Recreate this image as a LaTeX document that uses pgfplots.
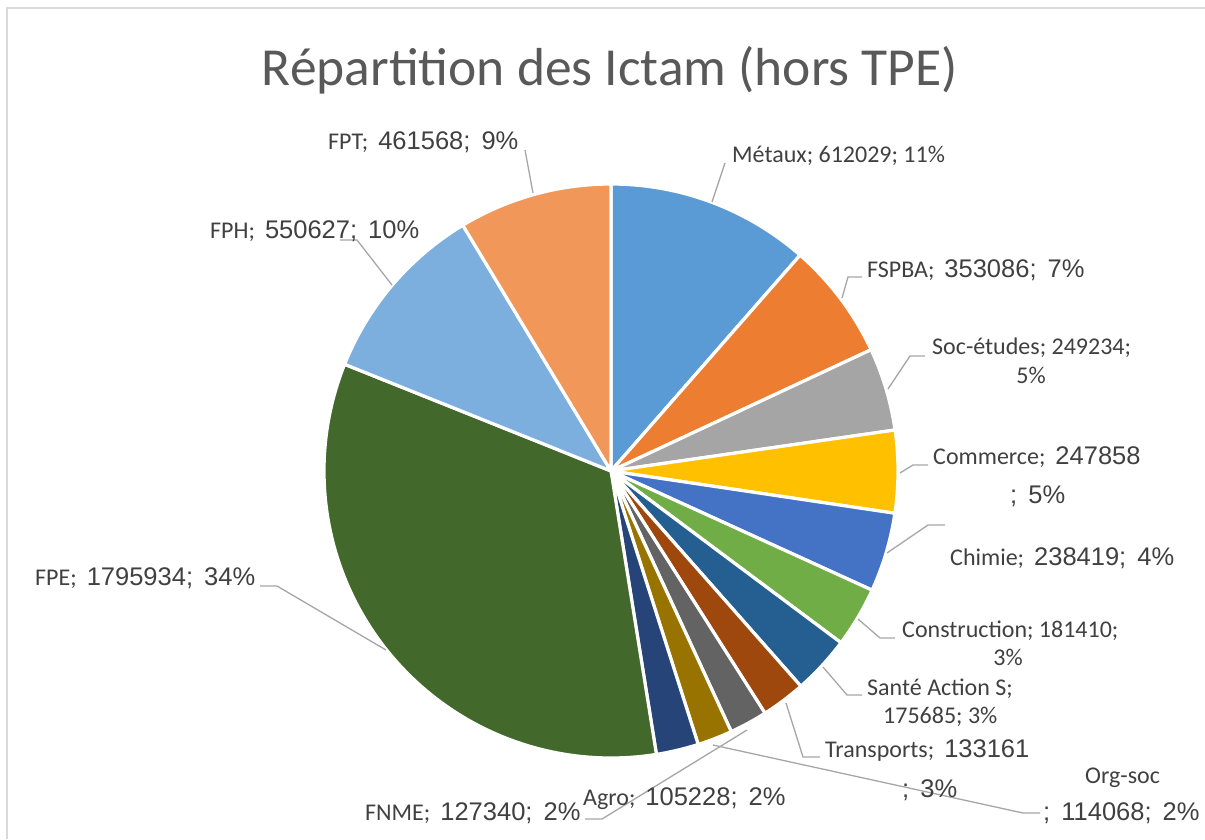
\documentclass[border=0pt]{standalone}
\usepackage{pgfplots}
\pgfplotsset{compat=1.18}
\usepackage{fontspec}
\setmainfont{Carlito}
\newfontfamily\arial{Liberation Sans}
\definecolor{c1}{HTML}{5B9BD5}
\definecolor{c2}{HTML}{ED7D31}
\definecolor{c3}{HTML}{A5A5A5}
\definecolor{c4}{HTML}{FFC000}
\definecolor{c5}{HTML}{4472C4}
\definecolor{c6}{HTML}{70AD47}
\definecolor{c7}{HTML}{255E91}
\definecolor{c8}{HTML}{9E480E}
\definecolor{c9}{HTML}{636363}
\definecolor{c10}{HTML}{997300}
\definecolor{c11}{HTML}{264478}
\definecolor{c12}{HTML}{43682B}
\definecolor{c13}{HTML}{7CAFDD}
\definecolor{c14}{HTML}{F1975A}
\definecolor{tc}{HTML}{404040}
\definecolor{ttl}{HTML}{595959}
\definecolor{lead}{HTML}{A6A6A6}
\definecolor{frame}{HTML}{D9D9D9}
\newcommand\cf{\fontsize{24}{29}\selectfont}
\newcommand\af{\arial\fontsize{25.5}{30}\selectfont}
% total of all values
\def\tot{5345647}
\def\cum{0}
\newcommand\slice[2]{%
  \xdef\angA{\fpeval{360*\cum/\tot}}%
  \xdef\cum{\fpeval{\cum+#1}}%
  \xdef\angB{\fpeval{360*\cum/\tot}}%
  \edef\tmp{\noexpand\addplot[fill=#2,draw=white,solid,no marks,line width=3.2pt,line join=round,domain=\angA:\angB,samples=90] ({611+287*sin(x)},{471-287*cos(x)}) -- (axis cs:611,471) -- cycle;}%
  \tmp}
\tikzset{
  lb/.style={anchor=base west, text=tc, inner sep=0pt},
  lc/.style={anchor=base, text=tc, inner sep=0pt},
  ld/.style={lead, solid, line width=1.3pt, no marks},
}
\begin{document}
\begin{tikzpicture}
\begin{axis}[
  width=1205pt, height=839pt, scale only axis,
  xmin=0, xmax=1205, ymin=0, ymax=839, y dir=reverse,
  hide axis, clip=false,
]
% frame
\addplot[frame, solid, line width=1.3pt, no marks] coordinates {(7,839) (7,8) (1205,8)};
% slices (values)
\slice{612029}{c1}   % Métaux
\slice{353086}{c2}   % FSPBA
\slice{249234}{c3}   % Soc-études
\slice{247858}{c4}   % Commerce
\slice{238419}{c5}   % Chimie
\slice{181410}{c6}   % Construction
\slice{175685}{c7}   % Santé Action S
\slice{133161}{c8}   % Transports
\slice{114068}{c9}   % Org-soc
\slice{105228}{c10}  % Agro
\slice{127340}{c11}  % FNME
\slice{1795934}{c12} % FPE
\slice{550627}{c13}  % FPH
\slice{461568}{c14}  % FPT
% leader lines
\addplot[ld] coordinates {(533,193) (525,150)};
\addplot[ld] coordinates {(392,285) (357,240) (340,240)};
\addplot[ld] coordinates {(712,202) (725,163)};
\addplot[ld] coordinates {(842,298) (848,277) (862,277)};
\addplot[ld] coordinates {(888,389) (910,356) (925,356)};
\addplot[ld] coordinates {(900,473) (913,465) (928,465)};
\addplot[ld] coordinates {(887,553) (928,525) (945,525)};
\addplot[ld] coordinates {(858,619) (880,638) (895,638)};
\addplot[ld] coordinates {(823,667) (847,695) (862,695)};
\addplot[ld] coordinates {(786,703) (803,757) (820,757)};
\addplot[ld] coordinates {(713,745) (1023,813) (1040,813)};
\addplot[ld] coordinates {(747,730) (602,819) (585,819)};
\addplot[ld] coordinates {(386,650) (277,586) (260,586)};
% title
\node[anchor=base, text=ttl, inner sep=0pt, font=\fontsize{53.5}{62}\selectfont] at (axis cs:610,85) {Répartition des Ictam (hors TPE)};
% labels
\node[lb] at (axis cs:328,149) {\cf FPT;\hspace{10pt}\af 461568;\hspace{4pt} 9\%};
\node[lb] at (axis cs:210,238) {\cf FPH;\hspace{10pt}\af 550627;\hspace{4pt} 10\%};
\node[lb] at (axis cs:732,162) {\cf Métaux; 612029; 11\%};
\node[lb] at (axis cs:867,277) {\cf FSPBA;\hspace{10pt}\af 353086;\hspace{4pt} 7\%};
\node[lb] at (axis cs:932,354) {\cf Soc-études; 249234;};
\node[lc] at (axis cs:1031,383) {\cf 5\%};
\node[lb] at (axis cs:933,464) {\cf Commerce;\hspace{10pt}\af 247858};
\node[lb] at (axis cs:1010,503) {\af ;\hspace{4pt} 5\%};
\node[lb] at (axis cs:950,565) {\cf Chimie;\hspace{10pt}\af 238419;\hspace{4pt} 4\%};
\node[lb] at (axis cs:902,637) {\cf Construction; 181410;};
\node[lc] at (axis cs:1008,665) {\cf 3\%};
\node[lb] at (axis cs:867,695) {\cf Santé Action S;};
\node[lb] at (axis cs:883,723) {\cf 175685; 3\%};
\node[lb] at (axis cs:825,757) {\cf Transports;\hspace{10pt}\af 133161};
\node[lb] at (axis cs:902,797) {\af ;\hspace{4pt} 3\%};
\node[lb] at (axis cs:1085,783) {\cf Org-soc};
\node[lb] at (axis cs:1043,820) {\af ;\hspace{4pt} 114068;\hspace{4pt} 2\%};
\node[lb] at (axis cs:583,805) {\cf Agro;\hspace{10pt}\af 105228;\hspace{4pt} 2\%};
\node[lb] at (axis cs:365,820) {\cf FNME;\hspace{10pt}\af 127340;\hspace{4pt} 2\%};
\node[lb] at (axis cs:35,585) {\cf FPE;\hspace{10pt}\af 1795934;\hspace{4pt} 34\%};
\end{axis}
\pgfresetboundingbox
\path (current axis.south west) rectangle (current axis.north east);
\end{tikzpicture}
\end{document}
